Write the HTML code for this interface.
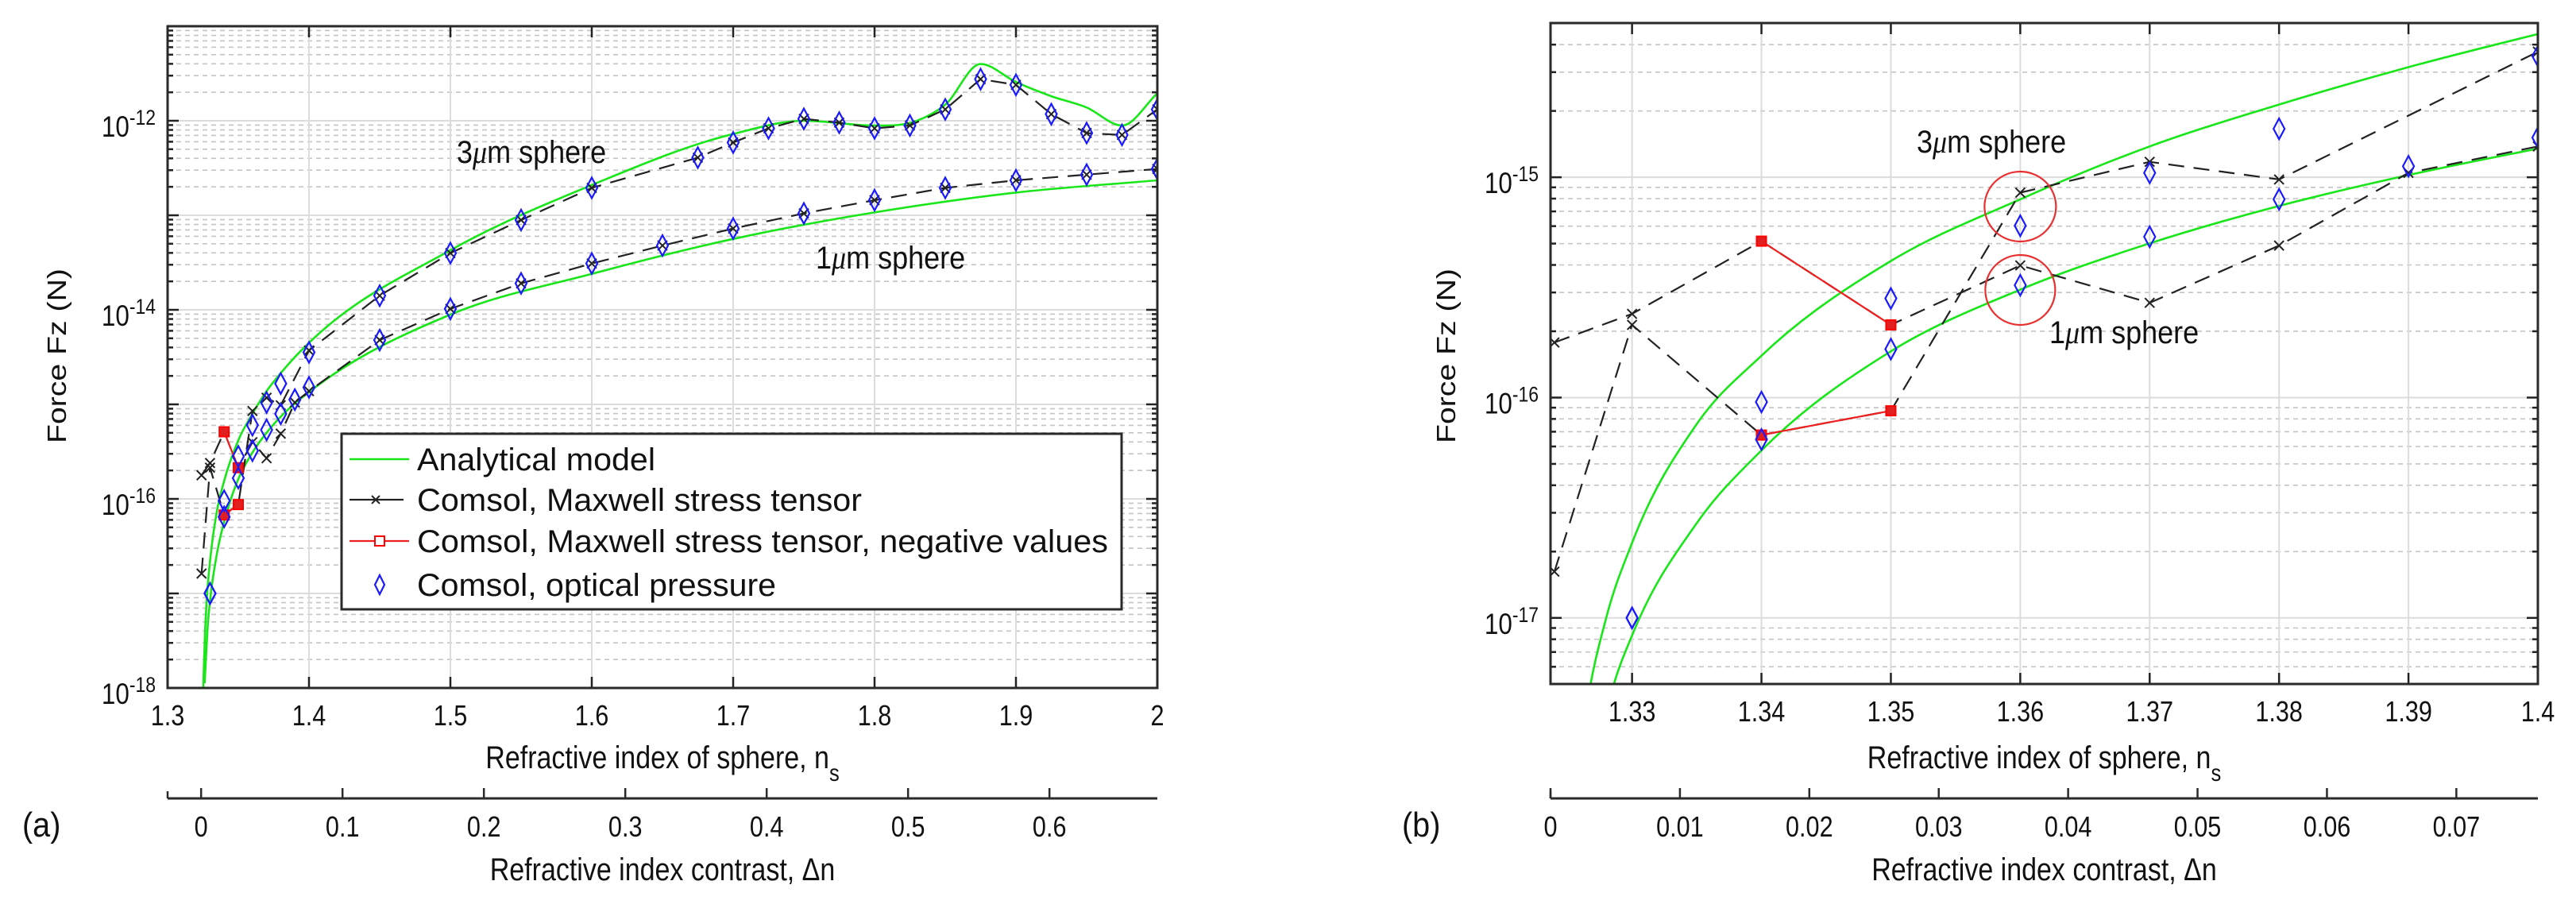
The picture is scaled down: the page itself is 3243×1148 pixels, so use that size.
<!DOCTYPE html>
<html><head><meta charset="utf-8"><style>
html,body{margin:0;padding:0;background:#fff;}
svg{display:block;font-family:"Liberation Sans",sans-serif;}
</style></head><body>
<svg id="fig" width="3243" height="1148" viewBox="0 0 3243 1148" xmlns="http://www.w3.org/2000/svg">
<rect x="0" y="0" width="3243" height="1148" fill="#fff"/>
</svg>
<script>
// Analytical model (log10 of force in N)
const a3x=[1.3252,1.3265,1.328,1.33,1.335,1.34,1.35,1.36,1.37,1.38,1.39,1.4,1.5,1.6,1.7,1.75,1.8,1.83,1.85,1.875,1.9,1.925,1.95,1.975,2.0];
const a3y=[-18.0,-17.4,-17.0,-16.66,-16.12,-15.81,-15.38,-15.10,-14.86,-14.67,-14.50,-14.35,-13.37,-12.68,-12.14,-12.0,-12.05,-12.0,-11.83,-11.40,-11.59,-11.74,-11.86,-12.05,-11.71];
const a1x=[1.3262,1.3286,1.33,1.335,1.34,1.35,1.36,1.37,1.38,1.39,1.4,1.5,1.6,1.7,1.8,1.9,2.0];
const a1y=[-17.95,-17.3,-17.08,-16.57,-16.24,-15.79,-15.51,-15.30,-15.13,-14.99,-14.87,-14.05,-13.62,-13.25,-12.97,-12.76,-12.63];
// Comsol Maxwell stress tensor
const m3x=[1.324,1.33,1.34,1.35,1.36,1.37,1.38,1.4,1.45,1.5,1.55,1.6,1.675,1.7,1.725,1.75,1.775,1.8,1.825,1.85,1.875,1.9,1.925,1.95,1.975,2.0];
const m3y=[-16.79,-15.67,-16.17,-16.06,-15.07,-14.93,-15.01,-14.43,-13.85,-13.40,-13.05,-12.71,-12.39,-12.23,-12.08,-11.98,-12.02,-12.08,-12.05,-11.88,-11.56,-11.62,-11.93,-12.13,-12.15,-11.88];
const m3neg=[2,3];
const m1x=[1.324,1.33,1.34,1.35,1.36,1.37,1.38,1.39,1.4,1.45,1.5,1.55,1.6,1.65,1.7,1.75,1.8,1.85,1.9,1.95,2.0];
const m1y=[-15.75,-15.62,-15.29,-15.67,-15.40,-15.57,-15.31,-14.98,-14.86,-14.32,-13.99,-13.72,-13.51,-13.32,-13.14,-12.98,-12.84,-12.71,-12.63,-12.57,-12.51];
const m1neg=[2,3];
// Comsol optical pressure
const o3x=[1.33,1.34,1.35,1.36,1.37,1.38,1.4,1.45,1.5,1.55,1.6,1.675,1.7,1.725,1.75,1.775,1.8,1.825,1.85,1.875,1.9,1.925,1.95,1.975,2.0];
const o3y=[-17.0,-16.02,-15.55,-15.22,-14.98,-14.78,-14.45,-13.85,-13.40,-13.05,-12.71,-12.39,-12.23,-12.08,-11.98,-12.02,-12.08,-12.05,-11.88,-11.56,-11.62,-11.93,-12.13,-12.15,-11.88];
const o1x=[1.33,1.34,1.35,1.36,1.37,1.38,1.39,1.4,1.45,1.5,1.55,1.6,1.65,1.7,1.75,1.8,1.85,1.9,1.95,2.0];
const o1y=[-17.0,-16.19,-15.78,-15.49,-15.27,-15.10,-14.95,-14.82,-14.32,-13.99,-13.72,-13.51,-13.32,-13.14,-12.98,-12.84,-12.71,-12.63,-12.57,-12.51];
// ticks
const aXTicks=[1.3,1.4,1.5,1.6,1.7,1.8,1.9,2.0];
const aXLabels=["1.3","1.4","1.5","1.6","1.7","1.8","1.9","2"];
const aYTicks=[-18,-16,-14,-12];
const aDnTicks=[0,0.1,0.2,0.3,0.4,0.5,0.6];
const bXTicks=[1.33,1.34,1.35,1.36,1.37,1.38,1.39,1.4];
const bXLabels=["1.33","1.34","1.35","1.36","1.37","1.38","1.39","1.4"];
const bYTicks=[-17,-16,-15];
const bDnTicks=[0,0.01,0.02,0.03,0.04,0.05,0.06,0.07];
const nMedium=1.3237;

const NS="http://www.w3.org/2000/svg";
const svg=document.getElementById('fig');
function el(tag,attrs,parent){const e=document.createElementNS(NS,tag);for(const k in attrs)e.setAttribute(k,attrs[k]);(parent||svg).appendChild(e);return e;}
function txt(parent,x,y,s,size,anchor,sx){
  const t=el('text',{transform:`translate(${x},${y}) scale(${sx||1},1)`,'font-size':size,'text-anchor':anchor||'start',fill:'#111'},parent);
  t.textContent=s;return t;}

function plot(cfg){
  const g=el('g',{});
  
  
  const X=v=>cfg.L+(v-cfg.x0)/(cfg.x1-cfg.x0)*(cfg.R-cfg.L);
  const Y=v=>cfg.B-(v-cfg.y0)/(cfg.y1-cfg.y0)*(cfg.B-cfg.T);
  const clipId='clip'+cfg.name;
  const cp=el('clipPath',{id:clipId},g);
  el('rect',{x:cfg.L,y:cfg.T,width:cfg.R-cfg.L,height:cfg.B-cfg.T},cp);
  const grid=el('g',{},g);
  
  
  for(let d=Math.floor(cfg.y0);d<Math.ceil(cfg.y1);d++){
    for(let m=1;m<=9;m++){
      const lv=d+Math.log10(m);
      if(lv<cfg.y0-1e-9||lv>cfg.y1+1e-9)continue;
      const y=Y(lv);
      if(m===1){
        el('line',{x1:cfg.L,x2:cfg.R,y1:y,y2:y,stroke:'#dcdcdc','stroke-width':2},grid);
        el('line',{x1:cfg.L,x2:cfg.L+14,y1:y,y2:y,stroke:'#222','stroke-width':2.5},grid);
        el('line',{x1:cfg.R,x2:cfg.R-14,y1:y,y2:y,stroke:'#222','stroke-width':2.5},grid);
      } else {
        el('line',{x1:cfg.L,x2:cfg.R,y1:y,y2:y,stroke:'#c4c4c4','stroke-width':1.6,'stroke-dasharray':'6 5'},grid);
        el('line',{x1:cfg.L,x2:cfg.L+7,y1:y,y2:y,stroke:'#222','stroke-width':2.5},grid);
        el('line',{x1:cfg.R,x2:cfg.R-7,y1:y,y2:y,stroke:'#222','stroke-width':2.5},grid);
      }
    }
  }
  cfg.xt.forEach((v,i)=>{
    const x=X(v);
    el('line',{x1:x,x2:x,y1:cfg.T,y2:cfg.B,stroke:'#dcdcdc','stroke-width':2},grid);
    el('line',{x1:x,x2:x,y1:cfg.B,y2:cfg.B-14,stroke:'#222','stroke-width':2.5},grid);
    el('line',{x1:x,x2:x,y1:cfg.T,y2:cfg.T+14,stroke:'#222','stroke-width':2.5},grid);
    const t=txt(g,x,cfg.B+47,cfg.xl[i],36,'middle',0.85);
    
    
  });
  cfg.yt.forEach(v=>{
    const y=Y(v);
    const t=el('text',{x:cfg.L-15,y:y+20,'font-size':37,'text-anchor':'end',fill:'#111',transform:`translate(${(cfg.L-15)*0.15},0) scale(0.85,1)`},g);
    
    
    const a=el('tspan',{},t);a.textContent='10';
    const b=el('tspan',{dy:-15,'font-size':27},t);b.textContent=String(v);
  });
  const data=el('g',{'clip-path':`url(#${clipId})`},g);
  
  
  const pth=(xs,ys)=>xs.map((x,i)=>(i?'L':'M')+X(x).toFixed(1)+' '+Y(ys[i]).toFixed(1)).join(' ');
  const smooth=(xs,ys)=>{
    const P=xs.map((x,i)=>[X(x),Y(ys[i])]);
    const n=P.length;
    const sec=[];for(let i=0;i<n-1;i++)sec.push((P[i+1][1]-P[i][1])/(P[i+1][0]-P[i][0]));
    const m=P.map((p,i)=>{
      if(i===0)return sec[0];
      if(i===n-1)return sec[n-2];
      if(sec[i-1]*sec[i]<=0)return 0;
      const w1=P[i+1][0]-P[i][0],w0=P[i][0]-P[i-1][0];
      return (sec[i-1]*w1+sec[i]*w0)/(w0+w1);
    });
    let d='M'+P[0][0].toFixed(1)+' '+P[0][1].toFixed(1);
    for(let i=0;i<n-1;i++){
      const dx=(P[i+1][0]-P[i][0])/3;
      d+=`C${(P[i][0]+dx).toFixed(1)} ${(P[i][1]+m[i]*dx).toFixed(1)} ${(P[i+1][0]-dx).toFixed(1)} ${(P[i+1][1]-m[i+1]*dx).toFixed(1)} ${P[i+1][0].toFixed(1)} ${P[i+1][1].toFixed(1)}`;
    }
    return d;
  };
  [[a3x,a3y],[a1x,a1y]].forEach(([xs,ys],k)=>{
    const p=el('path',{d:smooth(xs,ys),fill:'none',stroke:'#19e619','stroke-width':2.6},data);
    
    
  });
  [[m3x,m3y,m3neg],[m1x,m1y,m1neg]].forEach(([xs,ys,neg],k)=>{
    const p=el('path',{d:pth(xs,ys),fill:'none',stroke:'#222','stroke-width':2.2,'stroke-dasharray':'20 12'},data);
    
    
    const nx=neg.map(i=>xs[i]),ny=neg.map(i=>ys[i]);
    const r=el('path',{d:pth(nx,ny),fill:'none',stroke:'#f02020','stroke-width':2.2},data);
    
    
    xs.forEach((x,i)=>{
      const cx=X(x),cy=Y(ys[i]);
      const mk=el('path',{d:`M${cx-6} ${cy-6}L${cx+6} ${cy+6}M${cx-6} ${cy+6}L${cx+6} ${cy-6}`,stroke:'#222','stroke-width':2},data);
      
      
    });
    neg.forEach(i=>{
      const cx=X(xs[i]),cy=Y(ys[i]);
      const s=el('rect',{x:cx-6,y:cy-6,width:12,height:12,fill:'#e02020',stroke:'#f00','stroke-width':2},data);
      
      
    });
  });
  [[o3x,o3y],[o1x,o1y]].forEach(([xs,ys])=>{
    xs.forEach((x,i)=>{
      const cx=X(x),cy=Y(ys[i]);
      const d=el('path',{d:`M${cx} ${cy-13}L${cx+7} ${cy}L${cx} ${cy+13}L${cx-7} ${cy}Z`,fill:'none',stroke:'#1a1aff','stroke-width':2.2},data);
      
      
    });
  });
  const fr=el('rect',{x:cfg.L,y:cfg.T,width:cfg.R-cfg.L,height:cfg.B-cfg.T,fill:'none',stroke:'#2a2a2a','stroke-width':3},g);
  
  
  const xt=el('text',{transform:`translate(${(cfg.L+cfg.R)/2},967) scale(0.85,1)`,'font-size':40,'text-anchor':'middle',fill:'#111'},g);
  
  
  const t1=el('tspan',{},xt);t1.textContent='Refractive index of sphere, n';
  const t2=el('tspan',{dy:16,'font-size':30},xt);t2.textContent='s';
  const yt=el('text',{transform:`translate(${cfg.yTitleX},448) rotate(-90)`,'font-size':33,'text-anchor':'middle',fill:'#111',textLength:220,lengthAdjust:'spacingAndGlyphs'},g);
  yt.textContent='Force Fz (N)';
  
  
  const sa=el('g',{},g);
  
  
  el('line',{x1:cfg.L,x2:cfg.R,y1:1005,y2:1005,stroke:'#2a2a2a','stroke-width':3},sa);
  el('line',{x1:cfg.L,x2:cfg.L,y1:1005,y2:996,stroke:'#2a2a2a','stroke-width':2.5},sa);
  cfg.dn.forEach(v=>{
    const x=X(nMedium+v);
    el('line',{x1:x,x2:x,y1:1005,y2:992,stroke:'#2a2a2a','stroke-width':2.5},sa);
    const t=txt(sa,x,1053,String(v),36,'middle',0.85);
    
    
  });
  const st=el('text',{transform:`translate(${(cfg.L+cfg.R)/2},1108) scale(0.85,1)`,'font-size':40,'text-anchor':'middle',fill:'#111'},sa);
  st.textContent='Refractive index contrast,   \u0394n';
  
  
  const pl=txt(g,cfg.panelX,1053,cfg.panel,44,'start',0.9);
  
  
  return {g,X,Y};
}

const A=plot({name:'panel-a',L:211,R:1457,T:33,B:866,x0:1.3,x1:2.0,y0:-18,y1:-11,xt:aXTicks,xl:aXLabels,yt:aYTicks,dn:aDnTicks,yTitleX:83,panel:'(a)',panelX:28});
const Bp=plot({name:'panel-b',L:1952,R:3195,T:29,B:861,x0:nMedium,x1:1.4,y0:-17.30,y1:-14.30,xt:bXTicks,xl:bXLabels,yt:bYTicks,dn:bDnTicks,yTitleX:1832,panel:'(b)',panelX:1765});

function sphereLabel(parent,x,y,num,name){
  const t=el('text',{transform:`translate(${x},${y}) scale(0.9,1)`,'font-size':40,fill:'#111'},parent);
  
  
  const a=el('tspan',{},t);a.textContent=num;
  const b=el('tspan',{'font-style':'italic','font-family':'Liberation Serif, serif'},t);b.textContent='\u03bc';
  const c=el('tspan',{},t);c.textContent='m sphere';
}
sphereLabel(A.g,575,205,'3','label-3um-sphere');
sphereLabel(A.g,1027,338,'1','label-1um-sphere');
sphereLabel(Bp.g,2413,192,'3','label-3um-sphere');
sphereLabel(Bp.g,2580,432,'1','label-1um-sphere');
const c1=el('ellipse',{cx:Bp.X(1.36),cy:260,rx:45,ry:44,fill:'none',stroke:'#e83030','stroke-width':2.2},Bp.g);


const c2=el('ellipse',{cx:Bp.X(1.36),cy:365,rx:44,ry:44,fill:'none',stroke:'#e83030','stroke-width':2.2},Bp.g);



const lg=el('g',{},A.g);


el('rect',{x:430,y:546,width:982,height:221,fill:'#fff',stroke:'#2a2a2a','stroke-width':3},lg);
const entries=[['Analytical model',592,'green',300],['Comsol, Maxwell stress tensor',643,'black',560],['Comsol, Maxwell stress tensor, negative values',695,'red',870],['Comsol, optical pressure',750,'blue',452]];
entries.forEach(([s,y,k,w])=>{
  const e=el('g',{},lg);
  
  
  const ly=y-14;
  if(k==='green')el('line',{x1:440,x2:515,y1:ly,y2:ly,stroke:'#19e619','stroke-width':2.6},e);
  if(k==='black'){el('line',{x1:440,x2:508,y1:ly,y2:ly,stroke:'#222','stroke-width':2.2},e);el('path',{d:`M468 ${ly-5}L478 ${ly+5}M468 ${ly+5}L478 ${ly-5}`,stroke:'#222','stroke-width':2},e);}
  if(k==='red'){el('line',{x1:440,x2:515,y1:ly,y2:ly,stroke:'#f02020','stroke-width':2.2},e);el('rect',{x:472,y:ly-6,width:12,height:12,fill:'#fff',stroke:'#f00','stroke-width':2},e);}
  if(k==='blue')el('path',{d:`M478 ${ly-12}L484 ${ly}L478 ${ly+12}L472 ${ly}Z`,fill:'none',stroke:'#1a1aff','stroke-width':2.2},e);
  const t=el('text',{x:525,y:y,'font-size':40,fill:'#111',textLength:w,lengthAdjust:'spacingAndGlyphs'},e);
  t.textContent=s;
});
</script>
</body></html>
